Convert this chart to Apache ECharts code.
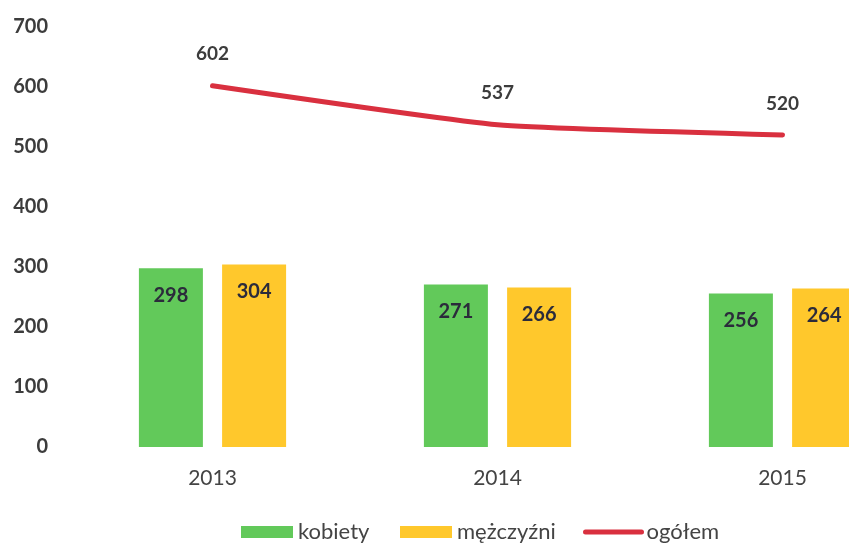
<!DOCTYPE html>
<html>
<head>
<meta charset="utf-8">
<script src="https://cdn.jsdelivr.net/npm/echarts@6/dist/echarts.min.js"></script>
<style>
  html, body { margin: 0; padding: 0; background: #fff; }
  #chart { width: 849px; height: 544px; }
</style>
</head>
<body>
<div id="chart"></div>
<script>
let years = ['2013', '2014', '2015'];
let kobiety = [298, 271, 256];
let mezczyzni = [304, 266, 264];
let ogolem = [602, 537, 520];
let yTicks = [0, 100, 200, 300, 400, 500, 600, 700];

const dom = document.getElementById('chart');
const myChart = echarts.init(dom);
const font = 'Lato, "Open Sans", sans-serif';

const barLabel = {
    show: true,
    position: 'insideTop',
    distance: 17,
    fontFamily: font,
    fontWeight: 'bold',
    fontSize: 20,
    color: '#2b2b3b'
};

// one legend per item so each sits where it does in the original
function legendAt(left, name, icon) {
    const item = { name: name };
    if (icon) {
        item.icon = icon;
    } else {
        item.itemStyle = { opacity: 0 };
        item.lineStyle = { width: 5, color: '#D9303F', cap: 'round' };
    }
    return {
        top: 516,
        left: left - 5,
        itemWidth: icon ? 52 : 56,
        itemHeight: 12,
        textStyle: {
            fontFamily: font,
            fontSize: 22,
            color: '#444'
        },
        data: [item]
    };
}

const option = {
    animation: false,
    grid: {
        left: 70,
        top: 27,
        width: 855,
        bottom: 97,
        outerBoundsMode: 'none'
    },
    legend: [
        legendAt(241, 'kobiety', 'rect'),
        legendAt(400, 'mężczyźni', 'rect'),
        legendAt(583, 'ogółem')
    ],
    xAxis: {
        type: 'category',
        data: years,
        axisLine: { show: false },
        axisTick: { show: false },
        axisLabel: {
            margin: 21,
            fontFamily: font,
            fontSize: 21,
            color: '#444'
        }
    },
    yAxis: {
        type: 'value',
        min: yTicks[0],
        max: yTicks[yTicks.length - 1],
        interval: 100,
        splitLine: { show: false },
        axisLine: { show: false },
        axisTick: { show: false },
        axisLabel: {
            margin: 22,
            fontFamily: font,
            fontWeight: 'bold',
            fontSize: 20,
            color: '#3c3c3c'
        }
    },
    series: [{
        name: 'kobiety',
        type: 'bar',
        data: kobiety,
        barWidth: 64,
        barGap: '30%',
        itemStyle: { color: '#62C95A' },
        label: barLabel
    }, {
        name: 'mężczyźni',
        type: 'bar',
        data: mezczyzni,
        barWidth: 64,
        itemStyle: { color: '#FFC82C' },
        label: barLabel
    }, {
        name: 'ogółem',
        type: 'line',
        data: ogolem,
        symbol: 'none',
        smooth: 0.15,
        lineStyle: { color: '#D9303F', width: 5, cap: 'round' },
        itemStyle: { color: '#D9303F' }
    }, {
        // labels for the total line
        name: 'ogółem-etykiety',
        type: 'scatter',
        data: ogolem,
        symbolSize: 0,
        silent: true,
        itemStyle: { opacity: 1 },
        label: {
            show: true,
            position: 'top',
            distance: 22,
            fontFamily: font,
            fontWeight: 'bold',
            fontSize: 19,
            color: '#3c3c3c'
        }
    }]
};

myChart.setOption(option, true);
</script>
</body>
</html>
